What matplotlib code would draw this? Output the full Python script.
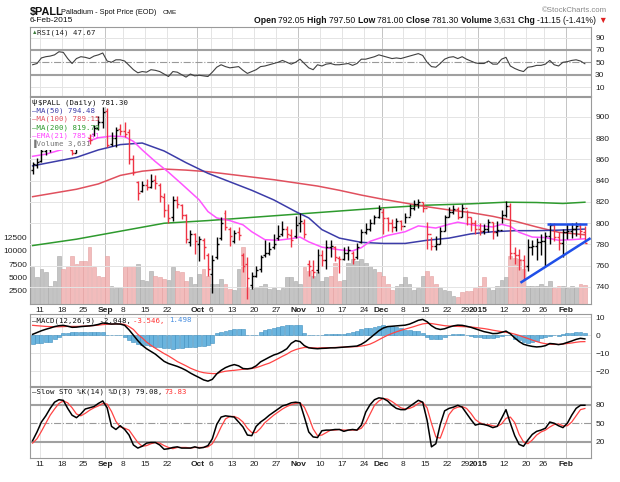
import matplotlib
matplotlib.use("Agg")
import matplotlib.pyplot as plt
from matplotlib.patches import Rectangle
import numpy as np

# ---------------- data (trading-day index 0 = 7-Aug-2014 ... 126 = 6-Feb-2015) ----------------
opens = [850,855,859,868,870,873,877,887,884,869, 866,876,882,880,884,890,895,906,875,880,
         889,887,886,860,839,830,836,834,841,836, 825,812,806,822,817,808,782,790,780,784,
         770,752,768,786,810,795,783,792,770,762, 742,750,757,770,772,778,786,790,795,789,
         788,800,800,762,756,756,770,765,778,778, 767,766,772,772,768,782,792,795,800,806,
         811,805,800,796,802,797,806,814,818,820, 814,790,779,780,793,806,811,813,806,814,
         806,800,795,793,795,801,792,794,808,816, 772,770,765,760,778,779,782,783,788,798,
         787,781,792,793,795,797,792.05]
highs = [858,861,870,873,876,880,889,890,886,871, 878,884,886,884,892,901,909,908,886,891,
         893,895,889,864,840,840,842,846,845,838, 828,818,826,826,818,809,794,791,788,786,
         772,770,787,806,812,796,794,796,772,768, 754,760,770,784,782,790,798,802,797,795,
         807,810,804,765,765,776,775,784,784,779, 769,778,779,774,781,795,800,804,808,817,
         814,806,804,805,803,810,818,822,823,820, 801,787,788,796,808,815,817,815,818,812,
         806,803,800,799,804,801,802,812,821,819, 778,776,770,785,784,786,790,792,800,800,
         792,795,799,800,801,800,797.5]
lows = [846,852,858,864,867,870,876,881,872,864, 866,874,878,875,882,888,890,872,873,872,
        883,881,856,845,822,829,831,833,832,820, 806,800,802,814,804,781,779,771,764,766,
        750,734,766,784,794,779,781,784,754,729, 738,749,754,768,770,776,784,788,786,778,
        786,792,786,750,748,753,760,757,768,764, 753,765,765,762,766,781,790,793,799,805,
        790,793,792,793,794,800,807,812,814,811, 776,775,775,780,793,806,809,804,806,798,
        793,790,789,790,792,785,788,800,806,766, 762,756,747,755,770,765,770,760,780,783,
        775,768,785,786,788,786,781]
closes = [856,858,868,871,873,877,887,884,875,866, 876,882,880,878,890,895,905,874,880,888,
          887,884,860,848,828,836,834,840,838,826, 812,805,822,818,808,785,790,783,785,778,
          757,765,780,800,796,788,791,789,760,748, 750,756,768,772,776,780,788,795,790,784,
          798,802,790,760,754,770,765,778,779,768, 766,772,775,766,778,792,795,800,806,813,
          805,800,796,802,797,806,814,818,820,814, 790,779,780,793,806,811,813,806,814,806,
          800,795,793,795,801,792,794,808,816,772, 770,765,760,778,779,782,783,788,798,787,
          781,792,793,795,797,792.45,781.3]
volume = [6900,5000,6600,6000,3400,4300,9100,6600,7200,9100, 7500,8100,8100,10680,6900,5300,5000,9100,3300,3100,
          3100,6900,7200,7200,7500,4600,4300,6200,5300,5000, 4800,4600,6900,6200,6000,4300,5000,3700,5600,6600,
          5300,3800,3800,4800,3800,2800,2700,6600,10680,3100, 2800,3200,3300,3800,2800,3100,2700,3100,5000,5000,
          4300,3800,6900,6200,5300,6000,4300,5000,5300,7800, 4300,4600,7800,8400,8100,8400,7800,7200,6600,6000,
          5300,3800,2700,3300,3800,5000,3800,2700,3100,5300, 6200,5300,3700,3100,2700,2500,1600,1250,2200,2400,
          2500,3100,3300,5000,3100,2700,3300,4600,5000,9100, 8700,8400,6600,3300,3300,3300,3800,3300,4300,3100,
          3300,3300,3100,3400,3200,3700,3631]
# 1 = down-day (pink) volume bar, 0 = up-day (grey), as coloured in the chart
vol_down = [0,0,0,0,0,0,0,1,1,1, 1,1,1,1,1,1,1,1,0,0, 0,1,1,1,0,0,0,0,1,1,
            1,0,0,1,1,1,0,0,0,1, 1,0,0,0,1,1,0,0,1,1, 0,0,0,0,0,0,0,0,0,0,
            0,0,1,1,0,0,0,0,1,1, 1,0,0,0,0,0,0,0,0,1, 1,1,1,0,0,0,0,0,0,0,
            1,1,1,0,0,0,0,1,1,1, 1,1,1,1,0,0,0,0,0,1, 1,1,1,0,0,0,0,0,0,1,
            1,0,0,0,0,1,1]

# moving averages read at anchor days (index, value)
ma50_idx = [0,5,10,15,20,25,30,35,40,45,50,55,60,63,66,70,75,80,85,90,95,100,105,110,115,120,126]
ma50_val = [854,858,862,869,874,875.5,868,857,847,839,831,822,811,805,794,786,782,781,781,784,786,790,792,793,793,793.5,794.48]
ma100_idx = [0,5,10,15,20,25,30,35,40,45,50,55,60,65,70,75,80,85,90,95,100,105,110,115,120,126]
ma100_val = [825,828.5,832,837,845,849,851,850,848.5,846,843.5,841,838,835,831,826.5,822.5,819,815.5,812.5,810,806.5,802,796.5,791.5,789.15]
ma200_idx = [0,10,20,30,40,50,60,70,80,90,100,108,115,121,126]
ma200_val = [779,785,792.5,800,802.5,805.5,808.5,811.5,814.5,817,818.3,819.8,819.5,818.6,819.79]
ema21_idx = [0,3,6,10,15,18,21,23,25,28,31,34,38,40,42,45,48,50,53,56,59,61,63,66,70,73,75,77,81,85,88,90,92,95,97,101,105,107,109,111,114,117,120,123,126]
ema21_val = [863,865,868.5,873,880.5,882,881.5,877,869,858,848,837,822,811,805,802.5,798.5,792,784.5,784,785.5,787,782.5,777.5,775,774,777,783,788.5,792,797.5,796.5,795.5,799,801,798,796.5,799,797,791.5,787,786.5,784,784.5,785.41]

rsi = [46,48,57,59,60,62,67,66,56,48, 56,59,58,56,60,62,65,52,50,54, 54,52,45,38,33,35,34,38,37,35,
       31,27,35,34,30,26,31,28,29,28, 27,34,42,46,43,41,42,43,37,32, 35,38,43,44,46,48,50,53,50,47,
       50,55,48,41,38,46,44,47,48,46, 46,47,48,45,48,55,55,57,59,62, 60,58,56,57,56,58,60,62,64,61,
       50,43,42,48,55,58,59,56,59,55, 52,49,48,48,52,47,47,55,58,44, 40,37,35,42,43,45,45,47,53,46,
       44,50,51,53,54,52,47.67]

macd = [0.5,1.5,2.5,3.3,4.0,4.8,5.3,5.5,5.0,4.4, 4.5,4.8,5.0,5.2,5.5,6.0,6.8,6.5,6.2,6.3,
        6.2,5.5,3.0,0.0,-3.0,-5.6,-7.5,-9.0,-10.5,-12.5, -14.5,-15.7,-16.5,-17.3,-18.3,-19.5,-21.0,-22.3,-23.5,-24.8,
        -25.5,-24.5,-21.5,-19.5,-18.0,-17.0,-16.3,-17.0,-18.5,-18.7, -18.3,-17.0,-14.8,-13.5,-12.2,-11.0,-10.2,-9.0,-7.5,-4.5,
        -3.0,-3.5,-5.8,-7.0,-7.3,-7.5,-7.3,-7.2,-7.0,-7.0, -6.8,-6.6,-6.4,-6.2,-6.0,-5.0,-3.5,-1.5,0.5,2.5,
        4.0,4.8,5.0,5.2,5.4,5.6,6.2,7.2,8.3,8.8, 7.5,5.3,3.8,3.2,3.6,4.5,5.2,5.6,5.5,5.0,
        4.4,3.6,2.8,2.0,1.5,0.9,1.0,1.6,2.3,0.8, -1.5,-3.5,-5.0,-5.7,-6.2,-6.5,-6.3,-5.8,-4.6,-4.8,
        -5.2,-4.8,-4.0,-3.2,-2.3,-1.7,-2.048]
signal = [5.5,5.3,5.1,4.9,4.8,4.7,4.7,4.8,4.9,4.9, 4.9,5.0,5.1,5.2,5.4,5.6,5.9,6.1,6.2,6.3,
          6.3,6.0,4.8,3.2,0.5,-1.5,-3.8,-5.6,-7.2,-8.7, -10.2,-11.5,-13.0,-14.6,-15.8,-17.0,-18.3,-19.3,-20.2,-20.8,
          -21.1,-21.3,-21.3,-20.5,-20.0,-19.7,-19.5,-19.2,-18.9,-18.7, -18.5,-18.0,-17.2,-16.3,-15.5,-14.3,-13.0,-11.7,-10.5,-9.0,
          -8.0,-7.3,-6.8,-6.8,-7.0,-7.1,-7.0,-6.9,-6.9,-6.8, -6.7,-6.6,-6.5,-6.4,-6.3,-6.0,-5.6,-4.9,-3.8,-2.5,
          -1.2,0.0,1.0,1.9,2.7,3.4,4.1,4.8,5.6,6.3, 6.6,6.5,6.1,5.7,5.3,5.1,5.0,4.9,4.8,4.7,
          4.6,4.3,4.0,3.7,3.3,2.8,2.4,2.0,1.6,1.2, 0.6,-0.1,-1.0,-1.8,-2.7,-3.5,-4.2,-4.7,-5.0,-5.1,
          -5.1,-4.9,-4.6,-4.3,-3.9,-3.6,-3.546]
hist = [-4.6,-4.5,-4.3,-3.8,-3.6,-2.0,-1.0,1.2,1.5,1.6, 1.8,1.9,1.8,1.9,2.0,2.0,1.9,0.4,0.3,0.4,
        0.3,-1.0,-2.5,-4.0,-4.8,-5.2,-5.6,-6.0,-6.3,-6.8, -7.0,-7.2,-7.4,-7.2,-7.0,-6.8,-6.6,-6.4,-6.2,-6.0,
        -5.6,-4.5,1.5,1.9,2.5,3.0,3.3,3.7,3.2,0.2, 0.0,0.3,2.0,3.0,3.5,4.0,4.5,5.0,5.5,5.8,
        5.9,5.5,1.5,0.4,0.4,0.3,0.4,0.8,0.9,0.9, 0.8,0.9,1.0,1.8,2.6,3.2,3.8,4.3,4.8,5.3,
        5.5,5.2,4.9,4.5,4.1,3.0,2.8,2.5,2.2,1.0, -0.8,-1.9,-2.3,-2.0,-0.9,0.3,0.8,0.9,0.6,0.4,
        -0.4,-0.8,-1.2,-1.5,-1.3,-1.5,-1.0,-0.5,0.4,0.0, -1.9,-2.8,-3.7,-4.1,-3.8,-3.0,-1.8,-0.9,-0.2,0.3,
        -0.2,0.6,1.2,1.5,2.0,1.9,1.498]

sto_k = [22,36,52,62,74,84,88,87,74,63, 59,65,73,75,77,82,86,75,45,40, 46,40,31,15,10,13,18,19,19,15,
         8,9,11,12,10,10,10,12,10,11, 14,25,48,60,62,61,60,52,44,31, 30,45,52,57,63,68,73,78,80,83,
         84,83,60,36,28,27,38,39,39,40, 40,37,39,40,39,47,68,80,88,91, 90,86,79,74,72,72,77,82,87,84,
         55,12,17,48,70,74,76,79,76,66, 56,47,49,48,46,43,45,58,72,50, 30,16,13,23,32,37,39,42,52,50,
         46,43,50,63,74,79,79.08]
sto_d = [18,25,37,50,63,73,82,86,83,75, 65,62,66,71,75,78,82,81,69,53, 44,42,39,29,19,13,14,17,19,18,
         14,11,9,11,11,11,10,11,11,11, 12,17,29,44,57,61,61,58,52,42, 35,35,42,51,57,63,68,73,77,80,
         82,83,76,60,41,30,31,35,39,39, 40,39,39,39,39,42,51,65,79,86, 90,89,85,80,75,73,74,77,82,84,
         75,50,28,26,45,64,73,76,77,74, 66,56,51,48,48,46,45,49,58,60, 51,32,20,17,23,31,36,39,44,48,
         49,46,46,52,62,72,73.83]

tick_idx = [2,7,12,17,21,26,31,38,41,46,51,56,61,66,71,76,80,85,90,95,99,102,108,113,117,122]
tick_lab = ['11','18','25','Sep','8','15','22','Oct','6','13','20','27','Nov','10','17','24',
            'Dec','8','15','22','29','2015','12','20','26','Feb']
month_lab = {'Sep','Oct','Nov','Dec','2015','Feb'}

# trend lines drawn on the chart (index, price)
tl_up_idx = [111.3, 127.3]
tl_up_val = [744, 786]
tl_flat_idx = [117.4, 126.6]
tl_flat_val = [799.5, 799.5]

# ---------------- figure ----------------
W, H = 620, 482
fig = plt.figure(figsize=(W/100, H/100), dpi=100)
fig.patch.set_facecolor('white')
FONT = 'Liberation Sans'
MONO = 'DejaVu Sans Mono'
plt.rcParams['font.family'] = FONT

X0, X1 = 30, 591
def rect(y0, y1):
    return [X0/W, 1 - y1/H, (X1-X0)/W, (y1-y0)/H]

n = len(closes)
x = np.arange(n)
XLIM = (-0.6, n + 0.4)
GRID = '#e4e4e4'
MGRID = '#c4c4c4'
BORDER = '#9a9a9a'
gx = [t - 0.4 for t in tick_idx]

def base(ax):
    ax.set_xlim(*XLIM)
    for s in ax.spines.values():
        s.set_color(BORDER); s.set_linewidth(0.8)
    for t, lab in zip(gx, tick_lab):
        ax.axvline(t, color=MGRID if lab in month_lab else GRID, lw=0.7, zorder=0)
    ax.set_xticks([])
    ax.tick_params(axis='y', which='both', length=0, labelsize=6, pad=3, colors='#222222')

def right_labels(ax):
    ax.yaxis.tick_right()

renderer = fig.canvas.get_renderer()

def ftext(px, py, s, **kw):
    kw.setdefault('fontsize', 5.3)
    kw.setdefault('va', 'center')
    kw.setdefault('ha', 'left')
    kw.setdefault('zorder', 3)
    return fig.text(px/W, 1 - py/H, s, **kw)

MONO_SIZE = 5.3
CHAR_W = 0.602 * MONO_SIZE * 100 / 72

def mono_run(px, py, parts):
    xx = px
    for s, c in parts:
        ftext(xx, py, s, family=MONO, fontsize=MONO_SIZE, color=c)
        xx += len(s) * CHAR_W

def text_run(px, py, parts, align='left', **kw):
    objs = [ftext(0, py, s, color=c, fontweight=('bold' if b else 'normal'), **kw) for s, b, c in parts]
    widths = [o.get_window_extent(renderer).width for o in objs]
    xx = px - sum(widths) if align == 'right' else px
    for o, w in zip(objs, widths):
        o.set_x(xx / W)
        xx += w

# ---- RSI ----
ax_rsi = fig.add_axes(rect(27, 96))
base(ax_rsi)
ax_rsi.set_ylim(-4.5, 107)
for v in (10, 90):
    ax_rsi.axhline(v, color=GRID, lw=0.7, zorder=0)
for v in (30, 70):
    ax_rsi.axhline(v, color='#a0a0a0', lw=1.5, zorder=1)
ax_rsi.axhline(50, color='#999999', lw=0.8, ls='-.', zorder=1)
ax_rsi.plot(x, rsi, color='#404040', lw=0.8, zorder=3)
right_labels(ax_rsi)
ax_rsi.set_yticks([10, 30, 50, 70, 90])
ftext(32, 32.5, '\u25b2', fontsize=4, color='#3a7a3a')
ftext(37, 32.5, 'RSI(14) 47.67', family=MONO, color='#222222')

# ---- main price panel ----
ax_vol = fig.add_axes(rect(97, 304))
ax_vol.set_xlim(*XLIM)
ax_vol.set_ylim(0, 39000)
ax_vol.bar(x, volume, width=0.85,
           color=['#f2bcbc' if d else '#c4c4c4' for d in vol_down],
           edgecolor=['#e4a0a0' if d else '#a8a8a8' for d in vol_down], linewidth=0.4, zorder=1)
for s in ax_vol.spines.values():
    s.set_color(BORDER); s.set_linewidth(0.8)
for t, lab in zip(gx, tick_lab):
    ax_vol.axvline(t, color=MGRID if lab in month_lab else GRID, lw=0.7, zorder=0)
ax_vol.set_xticks([])
ax_vol.set_yticks([2500, 5000, 7500, 10000, 12500])
ax_vol.tick_params(axis='y', length=0, labelsize=6, pad=2, colors='#222222')

ax = fig.add_axes(rect(97, 304))
ax.patch.set_alpha(0)
ax.set_xlim(*XLIM)
ax.set_ylim(724, 918.8)
for s in ax.spines.values():
    s.set_visible(False)
ax.set_xticks([])
for v in range(740, 920, 20):
    ax.axhline(v, color=GRID, lw=0.7, zorder=0)
right_labels(ax)
ax.set_yticks(list(range(740, 920, 20)))
ax.tick_params(axis='y', length=0, labelsize=6, pad=3, colors='#222222')

ax.plot(ma200_idx, ma200_val, color='#2e9a2e', lw=1.1, zorder=2)
ax.plot(ma100_idx, ma100_val, color='#e0505e', lw=1.1, zorder=2)
ax.plot(ma50_idx, ma50_val, color='#3c3ca8', lw=1.1, zorder=2)
ax.plot(ema21_idx, ema21_val, color='#ff55ff', lw=1.1, zorder=2)

bar_up = [closes[i] >= (closes[i-1] if i > 0 else opens[0]) for i in range(n)]
bcol = ['#000000' if u else '#ee3344' for u in bar_up]
ax.vlines(x, lows, highs, colors=bcol, lw=1.0, zorder=4)
ax.hlines(opens, x - 0.45, x, colors=bcol, lw=1.0, zorder=4)
ax.hlines(closes, x, x + 0.45, colors=bcol, lw=1.0, zorder=4)

ax.plot(tl_up_idx, tl_up_val, color='#1f4fe8', lw=1.8, zorder=5, solid_capstyle='butt')
ax.plot(tl_flat_idx, tl_flat_val, color='#1f4fe8', lw=1.8, zorder=5, solid_capstyle='butt')

# legend background boxes (pixel coords)
def fig_rect(x0, y0, x1, y1, **kw):
    r = Rectangle((x0/W, 1 - y1/H), (x1-x0)/W, (y1-y0)/H, transform=fig.transFigure, **kw)
    fig.add_artist(r)
fig_rect(X0+1, 98, 88, 150, facecolor='white', edgecolor='none', zorder=1)
fig_rect(X0+1, 98, 118, 107, facecolor='white', edgecolor='none', zorder=1)

ftext(31.5, 103, '\u03c8', fontsize=5.5, color='#111111')
ftext(38, 103, '$PALL (Daily) 781.30', family=MONO, color='#111111')
leg = [('MA(50) 794.48', '#3c3ca8'), ('MA(100) 789.15', '#e0505e'),
       ('MA(200) 819.79', '#2e9a2e'), ('EMA(21) 785.41', '#ff44ff')]
for k, (s, c) in enumerate(leg):
    yy = 111 + 8.2 * k
    ftext(31.5, yy, '\u2014' + s, family=MONO, color=c)
ftext(31.5, 144, '\u2590Volume 3,631', family=MONO, color='#777777')

# ---- MACD ----
ax_m = fig.add_axes(rect(314, 386))
base(ax_m)
ax_m.set_ylim(-28.2, 11.8)
for v in (10, 0, -10, -20):
    ax_m.axhline(v, color=GRID, lw=0.7, zorder=0)
ax_m.bar(x, hist, width=0.9, color='#6ab4de', edgecolor='#3f8fbf', linewidth=0.4, zorder=2)
ax_m.plot(x, signal, color='#ff4444', lw=0.9, zorder=3)
ax_m.plot(x, macd, color='#000000', lw=1.1, zorder=4)
right_labels(ax_m)
ax_m.set_yticks([-20, -10, 0, 10])
mono_run(31.5, 320.5, [('\u2014MACD(12,26,9) -2.048, ', '#111111'),
                       ('-3.546, ', '#ff3333'), ('1.498', '#4a8fe0')])

# ---- Slow STO ----
ax_s = fig.add_axes(rect(387, 458))
base(ax_s)
ax_s.set_ylim(-6, 108.5)
for v in (20, 80):
    ax_s.axhline(v, color='#a0a0a0', lw=1.5, zorder=1)
ax_s.axhline(50, color='#999999', lw=0.8, ls='-.', zorder=1)
ax_s.plot(x, sto_d, color='#ff4444', lw=0.9, zorder=3)
ax_s.plot(x, sto_k, color='#000000', lw=1.1, zorder=4)
right_labels(ax_s)
ax_s.set_yticks([20, 50, 80])
mono_run(31.5, 392, [('\u2014Slow STO %K(14) %D(3) 79.08, ', '#111111'), ('73.83', '#ff3333')])

# ---- date labels ----
def date_labels(ypix):
    for t, lab in zip(gx, tick_lab):
        xp = X0 + (t - XLIM[0]) / (XLIM[1] - XLIM[0]) * (X1 - X0)
        ftext(xp, ypix, lab, ha='center', fontsize=6,
              fontweight='bold' if lab in month_lab else 'normal', color='#222222')
date_labels(310.5)
date_labels(465)

# ---- header ----
ftext(30, 12, '$PALL', fontsize=7.8, fontweight='bold', color='#111111')
ftext(61, 12.5, 'Palladium - Spot Price (EOD)', fontsize=5.3, color='#111111')
ftext(163, 12.5, 'CME', fontsize=4.6, color='#111111')
ftext(30, 20.5, '6-Feb-2015', fontsize=6.0, color='#111111')
ftext(607, 10.5, '\u00a9StockCharts.com', fontsize=5.6, color='#888888', ha='right')
parts = [('Open ', True, '#111'), ('792.05 ', False, '#111'), ('High ', True, '#111'), ('797.50 ', False, '#111'),
         ('Low ', True, '#111'), ('781.00 ', False, '#111'), ('Close ', True, '#111'), ('781.30 ', False, '#111'),
         ('Volume ', True, '#111'), ('3,631 ', False, '#111'), ('Chg ', True, '#111'), ('-11.15 (-1.41%) ', False, '#111'),
         ('\u25bc', False, '#e02020')]
text_run(607, 20.5, parts, align='right', fontsize=6.2)

fig.savefig('out.png', dpi=100, facecolor='white')
